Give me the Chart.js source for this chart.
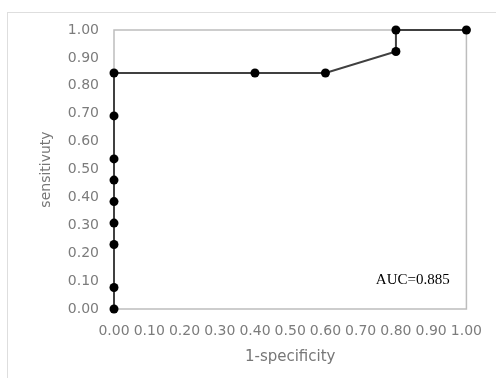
<!DOCTYPE html>
<html>
<head>
<meta charset="utf-8">
<script src="https://cdn.jsdelivr.net/npm/chart.js@4.4.0/dist/chart.umd.min.js"></script>
<style>
  html, body { margin: 0; padding: 0; background: #fff; }
  #wrap { position: relative; width: 496px; height: 378px; }
</style>
</head>
<body>
<div id="wrap"><canvas id="rocChart" width="496" height="378"></canvas></div>
<script>
// ROC curve points
var fpr = [0, 0, 0, 0, 0, 0, 0, 0, 0, 0.4, 0.6, 0.8, 0.8, 1.0];
var tpr = [0.00, 0.077, 0.231, 0.308, 0.385, 0.462, 0.538, 0.692, 0.846, 0.846, 0.846, 0.923, 1.00, 1.00];
var tickValues = [0, 0.1, 0.2, 0.3, 0.4, 0.5, 0.6, 0.7, 0.8, 0.9, 1.0];
var aucLabel = 'AUC=0.885';
var aucAt = [0.743, 0.103];

var points = fpr.map(function(x, i) { return { x: x, y: tpr[i] }; });

// Frame around the plot area, outer box and the AUC note
var framePlugin = {
    id: 'frame',
    beforeDraw: function(chart) {
        var ctx = chart.ctx;
        ctx.save();
        ctx.strokeStyle = '#dedede';
        ctx.lineWidth = 1;
        ctx.strokeRect(7.5, 12.5, 600, 600);
        ctx.restore();
    },
    beforeDatasetsDraw: function(chart) {
        var a = chart.chartArea;
        var ctx = chart.ctx;
        ctx.save();
        ctx.strokeStyle = '#bdbdbd';
        ctx.lineWidth = 1.5;
        ctx.strokeRect(a.left, a.top, a.right - a.left, a.bottom - a.top);
        ctx.restore();
    },
    afterDatasetsDraw: function(chart) {
        var ctx = chart.ctx;
        var sx = chart.scales.x, sy = chart.scales.y;
        ctx.save();
        ctx.fillStyle = '#000';
        ctx.font = '15px "Liberation Serif"';
        ctx.textAlign = 'left';
        ctx.textBaseline = 'middle';
        ctx.fillText(aucLabel, sx.getPixelForValue(aucAt[0]), sy.getPixelForValue(aucAt[1]));
        ctx.restore();
    }
};

var tickColor = '#7c7c7c';

new Chart(document.getElementById('rocChart').getContext('2d'), {
    type: 'scatter',
    data: {
        datasets: [{
            data: points,
            showLine: true,
            clip: false,
            borderColor: '#404040',
            borderWidth: 2,
            pointBackgroundColor: '#000',
            pointBorderColor: '#000',
            pointRadius: 4.5,
            pointBorderWidth: 0
        }]
    },
    options: {
        responsive: false,
        animation: false,
        layout: { padding: { top: 30, right: 29, left: 0, bottom: 0 } },
        plugins: { legend: { display: false }, tooltip: { enabled: false } },
        scales: {
            x: {
                type: 'linear',
                min: 0, max: 1,
                afterBuildTicks: function(scale) {
                    scale.ticks = tickValues.map(function(v) { return { value: v }; });
                },
                afterFit: function(scale) { scale.height = 69; },
                grid: { display: false, drawTicks: false },
                border: { display: false },
                ticks: {
                    autoSkip: false,
                    maxRotation: 0,
                    padding: 14,
                    color: tickColor,
                    font: { family: 'DejaVu Sans', size: 14 },
                    callback: function(v) { return Number(v).toFixed(2); }
                },
                title: {
                    display: true,
                    text: '1-specificity',
                    color: '#777777',
                    font: { family: 'DejaVu Sans', size: 15 },
                    padding: { top: 0, bottom: 12 }
                }
            },
            y: {
                type: 'linear',
                min: 0, max: 1,
                afterBuildTicks: function(scale) {
                    scale.ticks = tickValues.map(function(v) { return { value: v }; });
                },
                afterFit: function(scale) { scale.width = 114; },
                grid: { display: false, drawTicks: false },
                border: { display: false },
                ticks: {
                    padding: 15,
                    color: tickColor,
                    font: { family: 'DejaVu Sans', size: 14 },
                    callback: function(v) { return Number(v).toFixed(2); }
                },
                title: {
                    display: true,
                    text: 'sensitivuty',
                    color: '#777777',
                    font: { family: 'DejaVu Sans', size: 14 },
                    padding: { top: 38, bottom: 0 }
                }
            }
        }
    },
    plugins: [framePlugin]
});
</script>
</body>
</html>
